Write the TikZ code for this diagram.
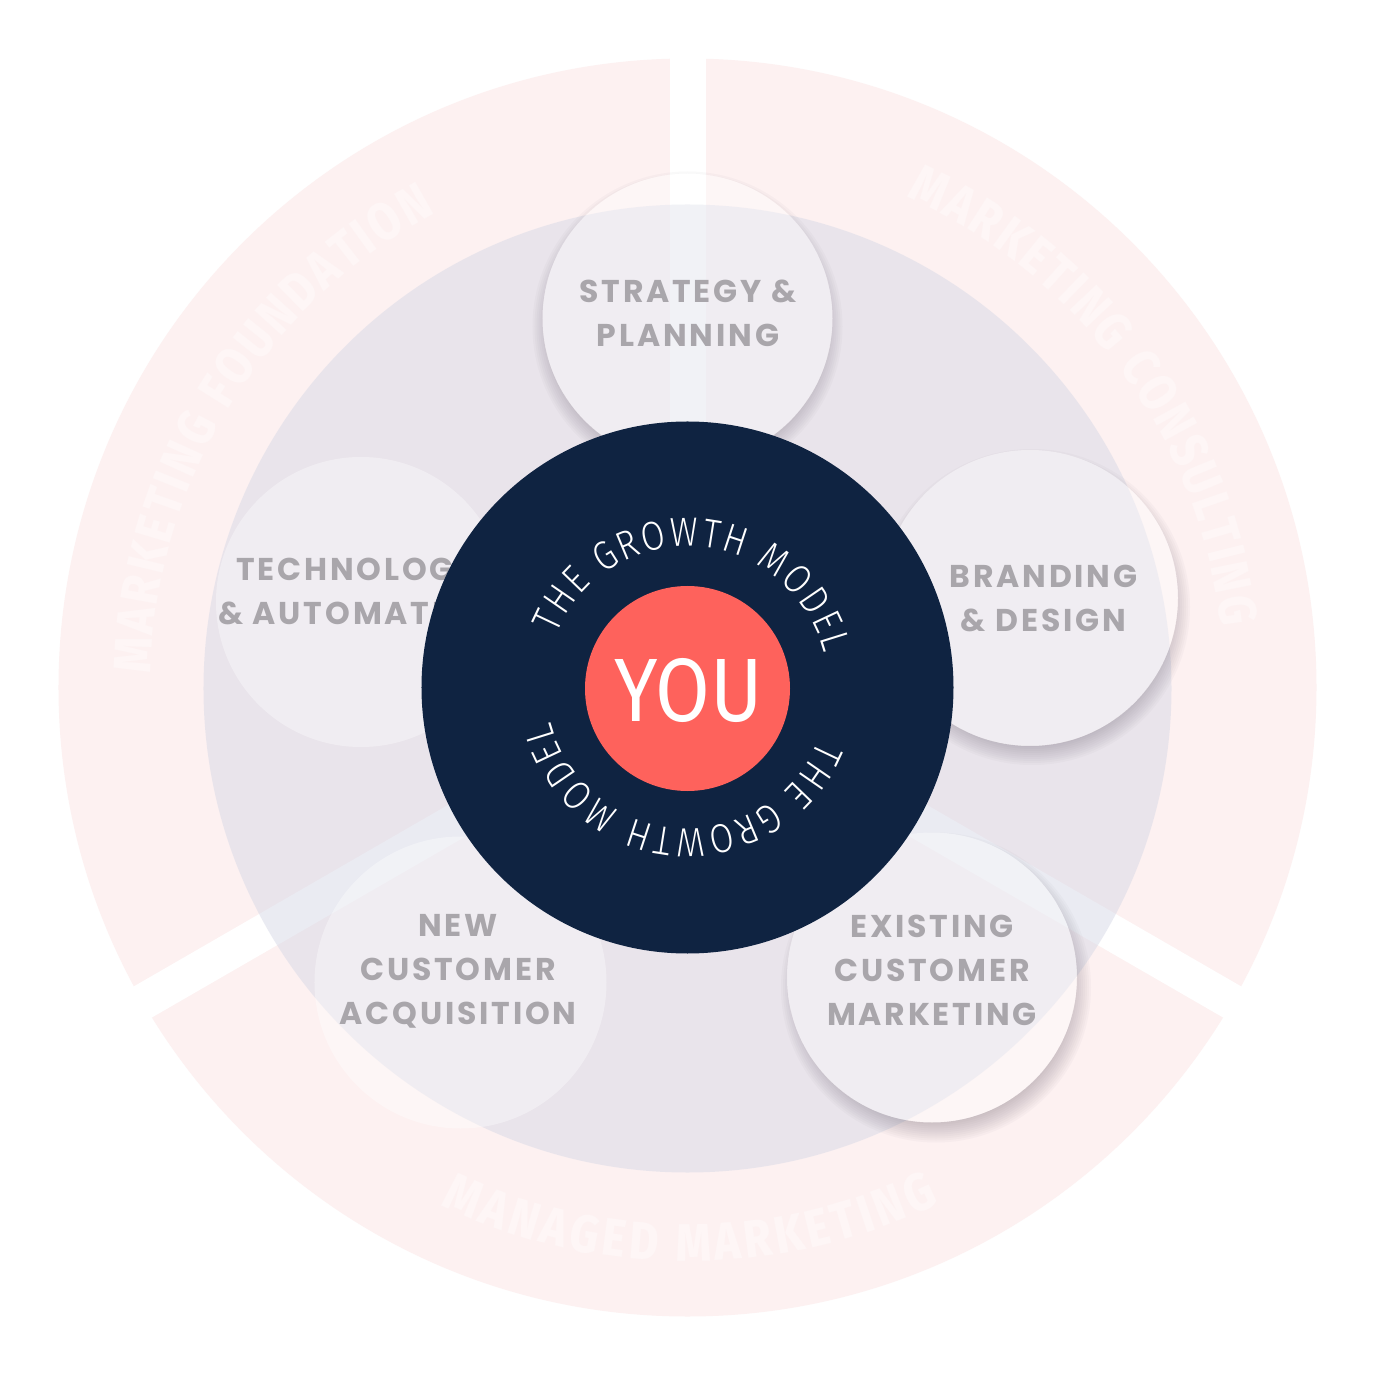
\documentclass[tikz,border=0pt]{standalone}
\usepackage{fontspec}
\usetikzlibrary{decorations.text,calc}
\newfontfamily\labelfont{Poppins}[LetterSpace=9]
\newfontfamily\ringfont{Fira Sans ExtraBold}[FakeStretch=0.84]
\newfontfamily\growthfont{Fira Sans Light}[FakeStretch=0.85]
\newfontfamily\youfont{Fira Sans}[FakeStretch=0.88]
\definecolor{pinkring}{RGB}{253,241,241}
\definecolor{ringtext}{RGB}{254,246,246}
\definecolor{lavender}{RGB}{215,217,231}
\definecolor{navy}{RGB}{15,35,65}
\definecolor{coral}{RGB}{254,98,92}
\definecolor{labelgray}{RGB}{169,166,171}
\definecolor{shadowcol}{RGB}{120,110,125}
\tikzset{
  nodelabel/.style={font=\labelfont\bfseries\fontsize{31.5pt}{44pt}\selectfont,
    text=labelgray, align=center, inner sep=0pt},
  bubble/.style={fill=white, fill opacity=0.36},
  gapstripe/.style={fill=white},
  ringtext/.style={decorate, decoration={text along path, text color=ringtext,
    text align={fit to path}, text={|\ringfont\fontsize{53pt}{53pt}\selectfont|#1}}},
  growthtext/.style={decorate, decoration={text along path, text color=white,
    text align={fit to path}, text={|\growthfont\fontsize{40.6pt}{41pt}\selectfont|#1}}},
}
\newcommand\bubbleshadow[3]{%
  \begin{scope}[even odd rule]
    \clip (-700pt,-700pt) rectangle (700pt,700pt) (#1) circle[radius=#2pt];
    \foreach \k in {0,...,10}
      \fill[shadowcol, opacity=0.04] ($(#1)+(#3)$) circle[radius={#2pt+10pt-2pt*\k}];
  \end{scope}}
\begin{document}
\begin{tikzpicture}[x=1pt,y=1pt]
\useasboundingbox (-687.5pt,-687.5pt) rectangle (687.5pt,687.5pt);
\fill[white] (-687.5pt,-687.5pt) rectangle (687.5pt,687.5pt);
% outer ring sectors
\fill[pinkring] (0,0) circle[radius=629pt];
\foreach \a in {90,210,330}
  \fill[gapstripe, rotate=\a] (0,-18) rectangle (650,18);
% ring texts
\path[ringtext={MARKETING FOUNDATION}]
  (178.5:537pt) arc[start angle=178.5, end angle=118, radius=537pt];
\path[ringtext={MARKETING CONSULTING}]
  (66:537pt) arc[start angle=66, end angle=6.5, radius=537pt];
\path[ringtext={MANAGED MARKETING}]
  (244.5:574pt) arc[start angle=244.5, end angle=296, radius=574pt];
% lavender disk
\fill[lavender, fill opacity=0.5] (0,-1) circle[radius=484pt];
% bubbles
\coordinate (cstrat) at (0,369);
\coordinate (cbrand) at (342.5,89.5);
\coordinate (cexist) at (244.5,-290);
\coordinate (cnew) at (-227,-295);
\coordinate (ctech) at (-326.5,85.5);
\bubbleshadow{cstrat}{145}{0,-8}
\bubbleshadow{cbrand}{148}{2,-9}
\bubbleshadow{cexist}{145}{4,-10}
\fill[bubble] (cstrat) circle[radius=145pt];
\fill[bubble] (cbrand) circle[radius=148pt];
\fill[bubble] (cexist) circle[radius=145pt];
\fill[bubble] (cnew) circle[radius=146pt];
\fill[bubble] (ctech) circle[radius=145pt];
% labels
\node[nodelabel] (lstrat) at (0.5,374.5) {STRATEGY \&\\PLANNING};
\node[nodelabel] (lbrand) at (356,89) {BRANDING\\\& DESIGN};
\node[nodelabel] (ltech) at (-330.5,96.5) {TECHNOLOGY\\\& AUTOMATION};
\node[nodelabel] (lnew) at (-229.5,-284) {NEW\\CUSTOMER\\ACQUISITION};
\node[nodelabel] (lexist) at (244.5,-282.5) {EXISTING\\CUSTOMER\\MARKETING};
% centre
\fill[navy] (0,0) circle[radius=266pt];
\fill[coral] (0,-1) circle[radius=102.5pt];
\node[font=\youfont\fontsize{90pt}{90pt}\selectfont, text=white, inner sep=0pt] (you) at (1,-3) {YOU};
\path[growthtext={THE GROWTH MODEL}]
  (158:141pt) arc[start angle=158, end angle=14, radius=141pt];
\path[growthtext={THE GROWTH MODEL}]
  (-22:141pt) arc[start angle=-22, end angle=-166, radius=141pt];
\end{tikzpicture}
\end{document}
